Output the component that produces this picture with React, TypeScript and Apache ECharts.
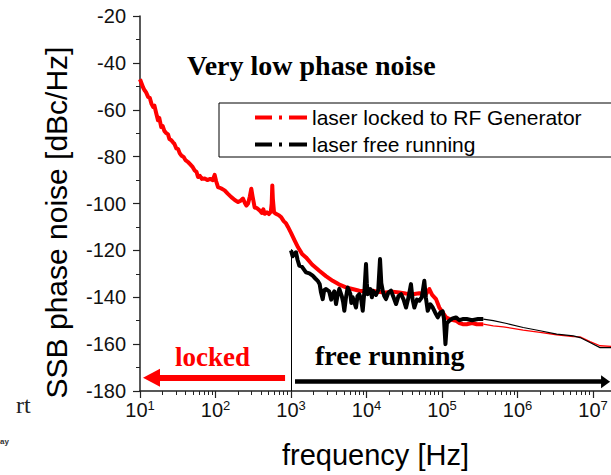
import { useEffect, useRef } from "react";
import * as echarts from "echarts";

// ---- data (frequency in Hz, phase noise in dBc/Hz) ----
const X_MIN = 10;
const X_MAX = 1.73e7;
const Y_MIN = -180;
const Y_MAX = -20;
const Y_STEP = 20;
const decades = [10, 100, 1e3, 1e4, 1e5, 1e6, 1e7];

const lockedNoisy: number[][] = [
  [10, -47], [10.5, -48.8], [11, -50.5], [11.5, -51.7], [12, -52.5], [12.8, -54.5], [13.5, -55],
  [14.2, -57.5], [14.9, -58.8], [15.5, -58.2], [16.4, -61.5], [17.3, -64.5], [18, -63.5],
  [19.1, -67.4], [20, -67], [21, -69], [22.3, -70], [23.5, -70.5], [24.5, -72.5], [26, -73],
  [27.5, -74], [28.5, -74.5], [30.3, -76.5], [32, -76.8], [33.5, -78.5], [35.2, -79.5],
  [38, -80.2], [40, -81.5], [43.2, -82.3], [46, -83.2], [50, -84.5], [53, -85.9], [56, -86.5],
  [58.7, -88.7], [62, -88.2], [66, -89.5], [71.9, -89.3], [78, -90], [85, -89.5], [92, -90],
  [97.5, -87.8], [102, -90.5], [108, -93], [118, -93.5], [132, -94.4], [145, -95.8],
  [162, -97.3], [180, -98.5], [199, -99.4], [215, -98.8], [231, -97.9], [245, -99.8],
  [256, -100.9], [270, -100], [285, -97], [298, -93.7], [310, -97], [330, -101.7], [355, -102],
  [385, -103], [410, -104], [430, -102.5], [449, -104.4], [480, -103.8], [510, -104.5],
  [540, -103.5], [555, -100], [565, -92.3], [575, -98], [596, -103.8], [640, -104.5],
  [690, -105], [743, -105.9], [800, -107.5], [860, -108.5], [912, -110], [1000, -112.5],
  [1119, -115.8], [1239, -118.7], [1400, -121.5], [1580, -123], [1900, -126], [2370, -128.7],
  [2900, -131], [3565, -133], [4300, -134.5], [5350, -135.8], [6500, -136.5], [8030, -137.2],
  [10000, -137.5], [12070, -137.2], [15000, -137.8], [18100, -138], [22000, -137.6],
  [27200, -138], [33000, -138.4], [40900, -138.7], [50000, -138.3], [61400, -138.7],
  [67900, -136.5], [74000, -139], [83300, -140.8], [92100, -144.4], [100000, -146],
  [113000, -148.6], [130000, -149.5], [153000, -150], [170000, -151], [188000, -151.5],
  [212000, -151.5], [250000, -151], [288000, -151.5], [352000, -151.5],
];

const lockedTail: number[][] = [
  [352000, -151.5], [478000, -152.2], [648000, -152.6], [1190000, -154], [1990000, -155],
  [3300000, -156], [5480000, -156.8], [6730000, -156.9], [9120000, -158.9],
  [12400000, -160.7], [17300000, -161],
];

const freeNoisy: number[][] = [
  [1000, -120], [1050, -122.5], [1107, -121.5], [1164, -120.8], [1220, -124], [1288, -126.5],
  [1400, -127], [1580, -129.4], [1750, -129.8], [1936, -130.8], [2100, -132], [2258, -133],
  [2400, -134.5], [2497, -138], [2630, -140.8], [2750, -137], [2910, -136.5], [3200, -137.5],
  [3400, -141], [3565, -138.7], [3750, -137.5], [3945, -142.9], [4150, -139], [4365, -136.4],
  [4700, -139.5], [4900, -142], [5085, -145.8], [5350, -140], [5635, -135.8], [6100, -138.5],
  [6300, -142.5], [6560, -140], [7260, -144.4], [7600, -139.5], [8030, -138.7], [8500, -141],
  [8910, -145.8], [9400, -137], [9850, -125.8], [10100, -134], [10370, -138.7], [11200, -136.5],
  [11800, -140], [12070, -137.2], [13360, -139], [14300, -137], [15100, -123.7], [15700, -134],
  [16400, -137.2], [17200, -139.5], [18100, -140.8], [19500, -138], [21100, -137.2],
  [22800, -140], [24600, -142.9], [26500, -139.5], [28700, -138.7], [31000, -141],
  [33400, -144.4], [36000, -140], [38800, -134.4], [40800, -141], [43000, -144.4],
  [46500, -141], [50000, -141.5], [54000, -140], [58300, -133], [61000, -140], [64700, -145.8],
  [70000, -143], [75400, -144.4], [81000, -146.5], [87800, -148.6], [95000, -146.5],
  [102000, -146], [106000, -149], [111000, -160], [116000, -151], [125000, -150],
  [138000, -149], [153000, -148.6], [170000, -149.8], [188000, -149.3], [212000, -149.3],
  [250000, -149.8], [300000, -149.3], [352000, -149.3],
];

const freeTail: number[][] = [
  [352000, -149.3], [478000, -150], [720000, -151.2], [1190000, -152.9], [1990000, -154.3],
  [3300000, -155.7], [5480000, -156.5], [6730000, -157.2], [9120000, -159.3],
  [12400000, -161.5], [17300000, -161.5],
];

// annotation values
const lockedArrow = { from: 834, to: 14.2, level: -174.3 };
const freeArrow = { from: 1130, to: 14660000, level: -176.0 };
const divider = { at: 1000, top: -119.5, bottom: -180 };

const SANS = '"Liberation Sans", Arial, sans-serif';
const SERIF = '"Liberation Serif", "Times New Roman", serif';
const RED = "#ff0000";
const BLACK = "#000000";

// dash - dot - dash legend sample, boxed to 52 x 14
const DASH_DOT_ICON = "path://M0,0 M52,14 M0,5h17v4h-17z M24,5h3v4h-3z M34,5h18v4h-18z";

const minorLogTicks: number[] = [];
decades.forEach((d) => {
  for (let k = 2; k <= 9; k++) {
    const v = k * d;
    if (v < X_MAX) minorLogTicks.push(Math.log10(v));
  }
});

function buildOption(): any {
  return {
    animation: false,
    backgroundColor: "#ffffff",
    grid: { left: 140, right: 0, top: 16, bottom: 84, containLabel: false },
    legend: {
      orient: "vertical",
      left: 219,
      top: 103,
      data: [
        { name: "laser locked to RF Generator", icon: DASH_DOT_ICON },
        { name: "laser free running", icon: DASH_DOT_ICON },
      ],
      itemWidth: 52,
      itemHeight: 14,
      itemGap: 6,
      padding: [4, 60, 2, 36],
      borderColor: "#000",
      borderWidth: 1,
      backgroundColor: "#fff",
      textStyle: { fontSize: 21, fontFamily: SANS, color: "#000" },
      selectedMode: false,
    },
    xAxis: [
      {
        type: "log",
        logBase: 10,
        min: X_MIN,
        max: X_MAX,
        name: "frequency [Hz]",
        nameLocation: "middle",
        nameGap: 49,
        nameTextStyle: { fontSize: 29, fontFamily: SANS, color: "#000" },
        axisLine: { show: true, onZero: false, lineStyle: { color: "#222", width: 1.5 } },
        axisTick: { show: true, length: 7, inside: false, lineStyle: { color: "#222", width: 1.2 } },
        minorTick: { show: false },
        splitLine: { show: false },
        axisLabel: {
          margin: 8,
          showMaxLabel: false,
          color: "#111",
          formatter: (v: number) => `{b|10}{s|${Math.round(Math.log10(v))}}`,
          rich: {
            b: { fontSize: 20, fontFamily: SANS, color: "#111", lineHeight: 22 },
            s: { fontSize: 13, fontFamily: SANS, color: "#111", lineHeight: 10, verticalAlign: "top" },
          },
        },
      },
      {
        type: "value",
        min: Math.log10(X_MIN),
        max: Math.log10(X_MAX),
        position: "bottom",
        axisLine: { show: false },
        axisLabel: { show: false },
        splitLine: { show: false },
        axisTick: {
          show: true,
          length: 4,
          customValues: minorLogTicks,
          lineStyle: { color: "#222", width: 1 },
        },
      },
    ],
    yAxis: {
      type: "value",
      min: Y_MIN,
      max: Y_MAX,
      interval: Y_STEP,
      name: "SSB phase noise [dBc/Hz]",
      nameLocation: "middle",
      nameGap: 69,
      nameTextStyle: { fontSize: 30, fontFamily: SANS, color: "#000", padding: [0, 38, 0, 0] },
      axisLine: { show: true, onZero: false, lineStyle: { color: "#222", width: 1.5 } },
      axisTick: { show: true, length: 7, lineStyle: { color: "#222", width: 1.2 } },
      minorTick: { show: true, splitNumber: 2, length: 4, lineStyle: { color: "#222", width: 1 } },
      splitLine: { show: false },
      axisLabel: { fontSize: 20, fontFamily: SANS, color: "#111", margin: 14 },
    },
    series: [
      {
        name: "laser locked to RF Generator",
        type: "line",
        data: lockedNoisy,
        showSymbol: false,
        symbol: "none",
        lineStyle: { color: RED, width: 4, join: "round" },
        itemStyle: { color: RED },
        z: 2,
        markLine: {
          silent: true,
          symbol: ["none", "triangle"],
          symbolSize: [18, 17],
          label: { show: false },
          lineStyle: { color: RED, width: 6, type: "solid", cap: "butt" },
          data: [
            [
              { coord: [lockedArrow.from, lockedArrow.level] },
              { coord: [lockedArrow.to, lockedArrow.level] },
            ],
          ],
        },
      },
      {
        name: "locked tail",
        type: "line",
        data: lockedTail,
        showSymbol: false,
        symbol: "none",
        lineStyle: { color: RED, width: 1.3 },
        z: 2,
      },
      {
        name: "laser free running",
        type: "line",
        data: freeNoisy,
        showSymbol: false,
        symbol: "none",
        lineStyle: { color: BLACK, width: 4, join: "round" },
        itemStyle: { color: BLACK },
        z: 3,
        markLine: {
          silent: true,
          label: { show: false },
          symbol: ["none", "triangle"],
          symbolSize: [13, 9],
          data: [
            [
              { coord: [freeArrow.from, freeArrow.level], lineStyle: { color: BLACK, width: 4.5, type: "solid" } },
              { coord: [freeArrow.to, freeArrow.level] },
            ],
            [
              { coord: [divider.at, divider.top], symbol: "none", lineStyle: { color: BLACK, width: 1, type: "solid" } },
              { coord: [divider.at, divider.bottom], symbol: "none" },
            ],
          ],
          lineStyle: { color: BLACK, type: "solid" },
        },
      },
      {
        name: "free tail",
        type: "line",
        data: freeTail,
        showSymbol: false,
        symbol: "none",
        lineStyle: { color: BLACK, width: 1.2 },
        z: 3,
      },
    ],
    graphic: [
      {
        type: "text",
        x: 187,
        y: 65,
        style: { text: "Very low phase noise", font: `bold 28px ${SERIF}`, fill: "#000", verticalAlign: "middle" },
      },
      {
        type: "text",
        x: 175,
        y: 357,
        style: { text: "locked", font: `bold 27px ${SERIF}`, fill: RED, verticalAlign: "middle" },
      },
      {
        type: "text",
        x: 315,
        y: 355,
        style: { text: "free running", font: `bold 28px ${SERIF}`, fill: "#000", verticalAlign: "middle" },
      },
      {
        type: "text",
        x: 16,
        y: 405,
        style: { text: "rt", font: `24px ${SERIF}`, fill: "#222", verticalAlign: "middle" },
      },
      {
        type: "text",
        x: 0,
        y: 441,
        style: { text: "ay", font: `bold 8px ${SANS}`, fill: "#333", verticalAlign: "middle" },
      },
    ],
  };
}

export default function App() {
  const ref = useRef<HTMLDivElement>(null);
  useEffect(() => {
    if (!ref.current) return;
    const chart = echarts.init(ref.current, null, { renderer: "svg" });
    chart.setOption(buildOption());
    return () => chart.dispose();
  }, []);
  return (
    <div
      ref={ref}
      style={{ position: "fixed", left: 0, top: 0, width: 611, height: 475, background: "#fff" }}
    />
  );
}
